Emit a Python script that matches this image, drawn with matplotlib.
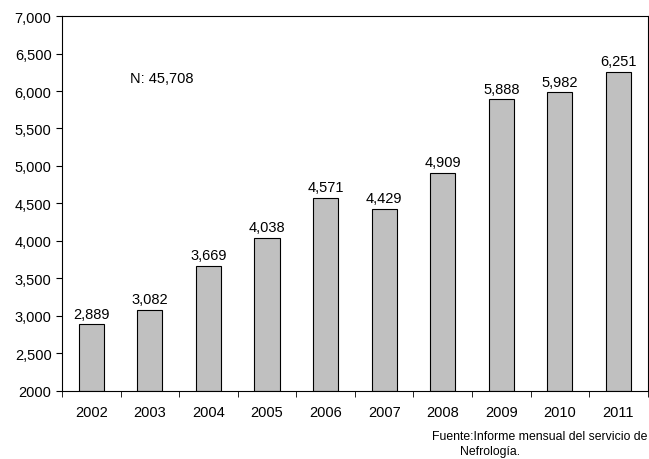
import matplotlib
matplotlib.use("Agg")
import matplotlib.pyplot as plt
import numpy as np

plt.rcParams['font.family'] = ['Liberation Sans', 'DejaVu Sans']

years = ['2002','2003','2004','2005','2006','2007','2008','2009','2010','2011']
values = [2889, 3082, 3669, 4038, 4571, 4429, 4909, 5888, 5982, 6251]
yticks = [2000, 2500, 3000, 3500, 4000, 4500, 5000, 5500, 6000, 6500, 7000]
ytick_labels = ['2000', '2,500', '3,000', '3,500', '4,000', '4,500', '5,000', '5,500', '6,000', '6,500', '7,000']

fig = plt.figure(figsize=(6.49, 4.6), dpi=100)
ax = fig.add_axes([0.0955, 0.148, 0.9025, 0.815])
x = np.arange(len(years))
ax.bar(x, [v - 2000 for v in values], bottom=2000, width=0.43, color='#c0c0c0', edgecolor='black', linewidth=0.8)
for xi, v in zip(x, values):
    ax.text(xi, v + 50, f"{v:,}", ha='center', va='bottom', fontsize=10.5)
ax.set_ylim(2000, 7000)
ax.set_xlim(-0.5, len(years) - 0.5)
ax.set_yticks(yticks)
ax.set_yticklabels(ytick_labels, fontsize=10.5)
ax.set_xticks(x)
ax.set_xticklabels(years, fontsize=10.5)
ax.tick_params(axis='x', length=0, pad=10)
ax.set_xticks(np.arange(len(years) + 1) - 0.5, minor=True)
ax.tick_params(axis='x', which='minor', length=4)
ax.tick_params(axis='y', length=4)
for s in ax.spines.values():
    s.set_linewidth(0.8)
ax.text(0.66, 6180, "N: 45,708", fontsize=10.5, ha='left', va='center')
fig.text(0.998, 0.05, "Fuente:Informe mensual del servicio de", ha='right', va='center', fontsize=8.8)
fig.text(0.755, 0.017, "Nefrología.", ha='center', va='center', fontsize=8.8)
fig.savefig('out.png', dpi=100)
